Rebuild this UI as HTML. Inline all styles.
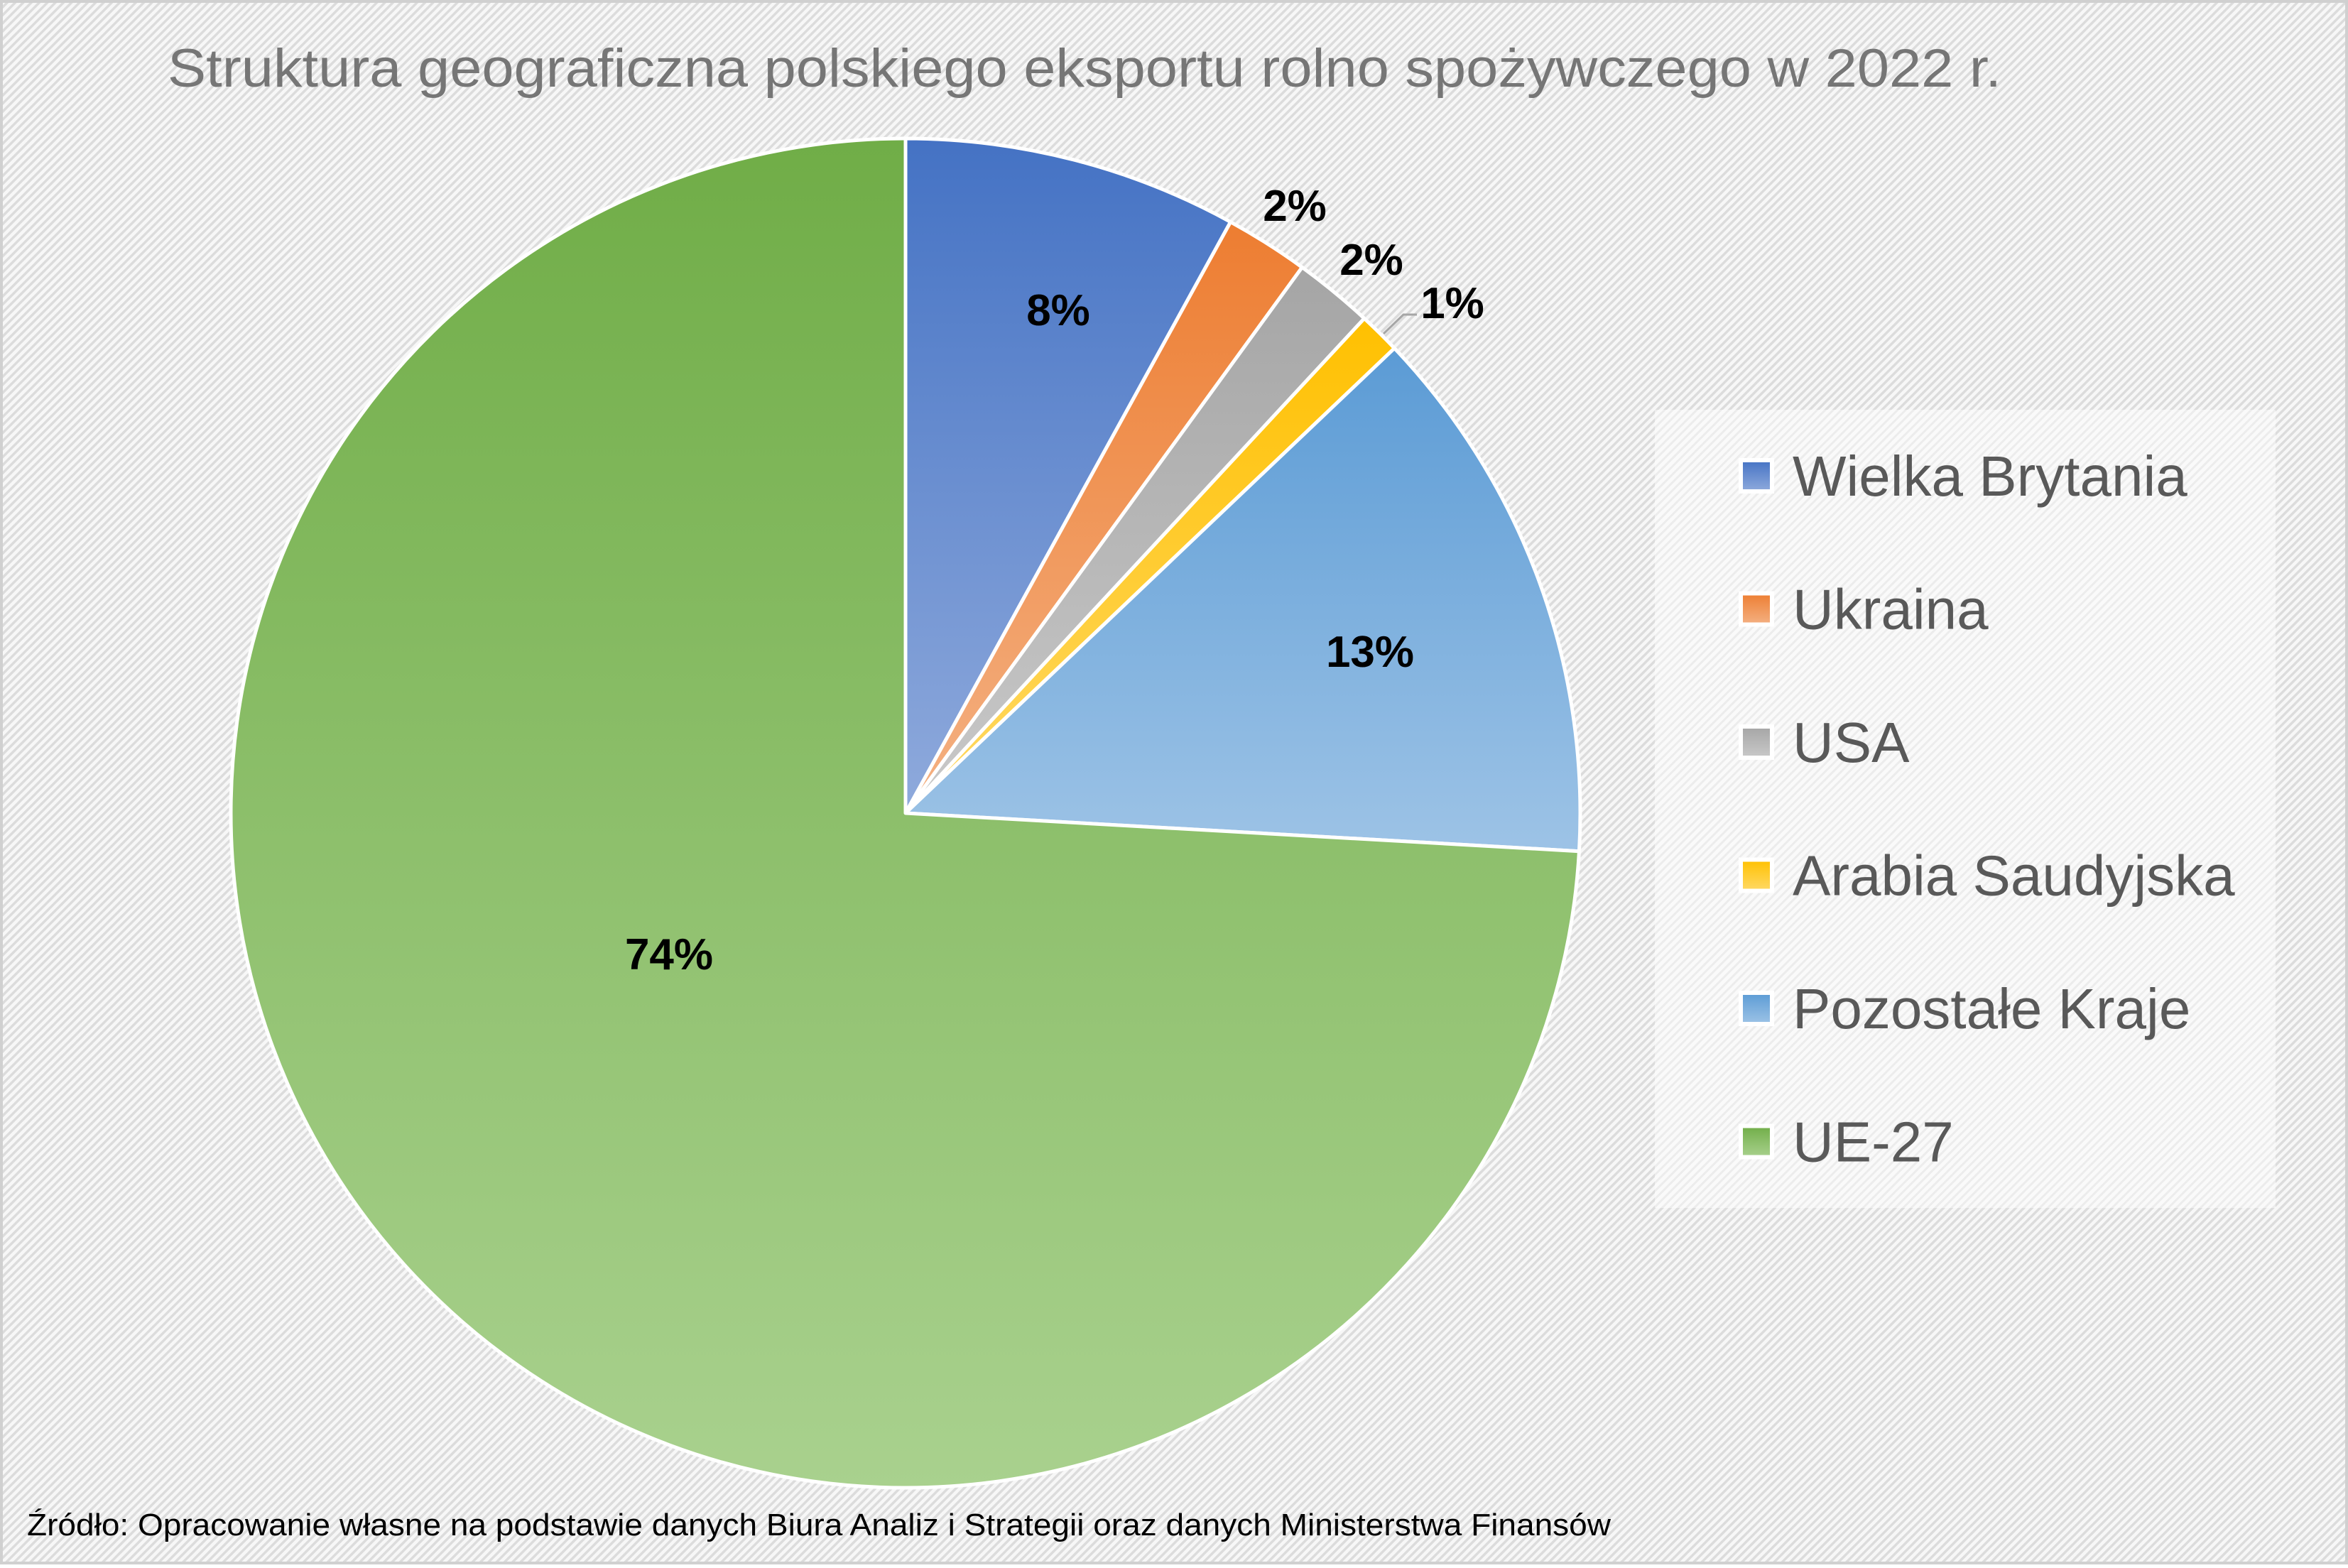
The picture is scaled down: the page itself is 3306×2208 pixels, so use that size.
<!DOCTYPE html>
<html><head><meta charset="utf-8"><style>
html,body{margin:0;padding:0;}
body{width:3306px;height:2203px;overflow:hidden;font-family:"Liberation Sans",sans-serif;}
</style></head><body>
<svg id="chart" width="3306" height="2203" viewBox="0 0 3306 2203" xmlns="http://www.w3.org/2000/svg">
<defs>
<pattern id="hatch" width="8" height="8" patternUnits="userSpaceOnUse" patternTransform="rotate(45)">
<rect width="8" height="8" fill="#f7f7f7"/><rect width="3.5" height="8" fill="#dcdcdc"/>
</pattern>
<pattern id="hatch2" width="8" height="8" patternUnits="userSpaceOnUse" patternTransform="rotate(45)">
<rect width="8" height="8" fill="#fafafa"/><rect width="3" height="8" fill="#ececec"/>
</pattern>
</defs>
<rect x="0" y="0" width="3306" height="2203" fill="url(#hatch)"/>
<rect x="2" y="2" width="3302" height="2199" fill="none" stroke="#d0d0d0" stroke-width="4"/>
<text x="236" y="122" font-size="76" fill="#767676" textLength="2582" lengthAdjust="spacingAndGlyphs">Struktura geograficzna polskiego eksportu rolno spożywczego  w 2022 r.</text>
<rect x="2330" y="577" width="874" height="1124" fill="url(#hatch2)"/>
<g id="slices"></g>
<g id="labels"></g>
<g id="legend"></g>
<path d="M1948 470 L1976 443 L1995 443" stroke="#a6a6a6" stroke-width="3" fill="none"/>
<text x="38" y="2162" font-size="44" fill="#000" textLength="2230" lengthAdjust="spacingAndGlyphs">Źródło: Opracowanie własne na podstawie danych Biura Analiz i Strategii oraz danych Ministerstwa Finansów</text>
</svg>
<script>
const categories = ["Wielka Brytania","Ukraina","USA","Arabia Saudyjska","Pozostałe Kraje","UE-27"];
const values = [8.0, 2.0, 1.9, 1.0, 13.0, 74.1];
const valueLabels = ["8%","2%","2%","1%","13%","74%"];
const NS="http://www.w3.org/2000/svg";
const colorsTop=["#4472C4","#ED7D31","#A5A5A5","#FFC000","#5B9BD5","#70AD47"];
const colorsBot=["#8FAADC","#F4B183","#C9C9C9","#FFD966","#9DC3E6","#A9D18E"];
const cx=1275, cy=1145, R=950;
const labelPos=[[1490,436],[1823,289],[1931,365],[2045,426],[1929,917],[942,1343]];
const defs=document.querySelector("defs");
const total=values.reduce((a,b)=>a+b,0);
function pt(a,r){return [cx+r*Math.sin(a), cy-r*Math.cos(a)];}
let acc=0;
const gS=document.getElementById("slices"), gL=document.getElementById("labels"), gLeg=document.getElementById("legend");
values.forEach((v,i)=>{
  const g=document.createElementNS(NS,"linearGradient");
  g.setAttribute("id","grad"+i);g.setAttribute("x1","0");g.setAttribute("y1","0");g.setAttribute("x2","0");g.setAttribute("y2","1");
  g.innerHTML='<stop offset="0" stop-color="'+colorsTop[i]+'"/><stop offset="1" stop-color="'+colorsBot[i]+'"/>';
  defs.appendChild(g);
  const a0=acc/total*2*Math.PI; acc+=v; const a1=acc/total*2*Math.PI;
  const p0=pt(a0,R), p1=pt(a1,R);
  const large=(a1-a0)>Math.PI?1:0;
  const p=document.createElementNS(NS,"path");
  p.setAttribute("d",`M${cx} ${cy} L${p0[0]} ${p0[1]} A${R} ${R} 0 ${large} 1 ${p1[0]} ${p1[1]} Z`);
  p.setAttribute("fill","url(#grad"+i+")");p.setAttribute("stroke","#fff");p.setAttribute("stroke-width","5");p.setAttribute("stroke-linejoin","round");
  
  
  gS.appendChild(p);
  const t=document.createElementNS(NS,"text");
  t.setAttribute("x",labelPos[i][0]);t.setAttribute("y",labelPos[i][1]+22);
  t.setAttribute("text-anchor","middle");t.setAttribute("font-size","62");t.setAttribute("font-weight","bold");t.setAttribute("fill","#000");
  t.textContent=valueLabels[i];
  
  
  gL.appendChild(t);
  const y=670+i*187.5;
  const sq=document.createElementNS(NS,"rect");
  sq.setAttribute("x",2451);sq.setAttribute("y",y-22);sq.setAttribute("width",44);sq.setAttribute("height",44);
  sq.setAttribute("fill","url(#grad"+i+")");sq.setAttribute("stroke","#fff");sq.setAttribute("stroke-width","6");
  
  
  gLeg.appendChild(sq);
  const lt=document.createElementNS(NS,"text");
  lt.setAttribute("x",2524);lt.setAttribute("y",y+28);lt.setAttribute("font-size","80");lt.setAttribute("fill","#595959");
  lt.textContent=categories[i];
  
  
  gLeg.appendChild(lt);
});
</script>
</body></html>
